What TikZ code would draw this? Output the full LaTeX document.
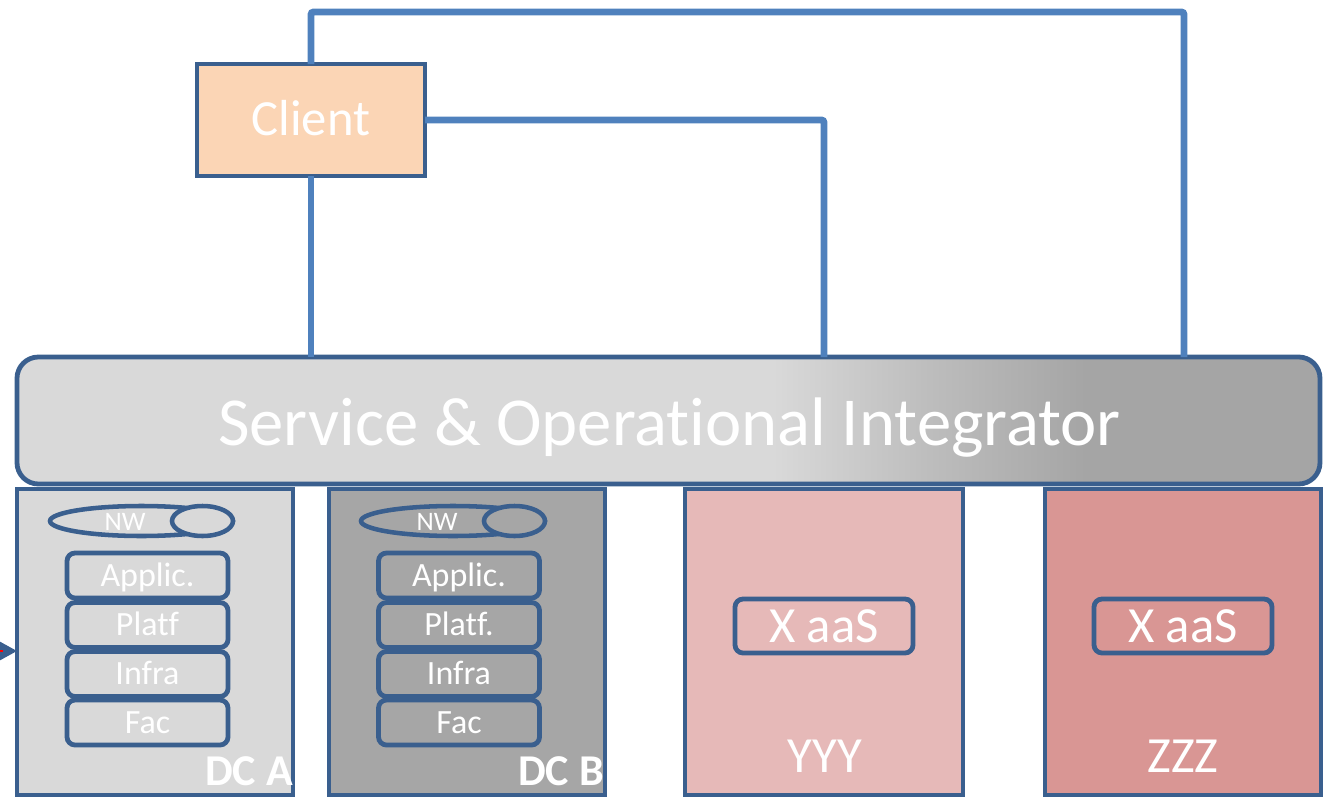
\documentclass[tikz,border=0pt]{standalone}
\usepackage{fontspec}
\setmainfont{Carlito}[Ligatures={NoCommon}]
\usetikzlibrary{shapes.geometric,arrows.meta,calc}

\definecolor{bordercol}{HTML}{3A5F8E}
\definecolor{conncol}{HTML}{4F81BD}
\definecolor{clientfill}{HTML}{FBD5B5}
\definecolor{soilight}{HTML}{D9D9D9}
\definecolor{soimid}{HTML}{BDBDBD}
\definecolor{soidark}{HTML}{A5A5A5}
\definecolor{dcafill}{HTML}{D9D9D9}
\definecolor{dcbfill}{HTML}{A6A6A6}
\definecolor{yyyfill}{HTML}{E6B9B8}
\definecolor{zzzfill}{HTML}{D99694}

% grey band that darkens towards the right end of the integrator bar
\pgfdeclarehorizontalshading{soishade}{100bp}{%
  color(0bp)=(soilight); color(54bp)=(soilight); color(60bp)=(soimid);
  color(66bp)=(soidark); color(100bp)=(soidark)}

\newcommand{\fsz}[1]{\fontsize{#1}{#1}\selectfont}

\tikzset{
  box/.style={draw=bordercol, line width=3.6pt, inner sep=0pt, outer sep=0pt,
    text=white},
  column/.style={box, minimum height={306*0.75pt}},
  layer/.style={box, rounded corners=6pt, minimum width={161*0.75pt},
    minimum height={45*0.75pt}, font=\fsz{25.5pt}, text height=16.4pt, text depth=0pt},
  service/.style={box, rounded corners=6pt, minimum width={178*0.75pt},
    minimum height={54*0.75pt}},
  nwring/.style={ellipse, draw=bordercol, line width=3.4pt, inner sep=0pt,
    outer sep=0pt, minimum height={30*0.75pt}},
  lbl/.style={text=white, inner sep=0pt, anchor=base},
  conn/.style={draw=conncol, line width=5.2pt, rounded corners=2pt},
}

\begin{document}
\begin{tikzpicture}[x=0.75pt, y=-0.75pt]
\useasboundingbox (0,0) rectangle (1325,803);

% ---- provider columns ----
\node[column, fill=dcafill, minimum width={276*0.75pt}] (dca) at (155,642) {};
\node[column, fill=dcbfill, minimum width={276*0.75pt}] (dcb) at (467,642) {};
\node[column, fill=yyyfill, minimum width={278*0.75pt}] (yyy) at (824,642) {};
\node[column, fill=zzzfill, minimum width={276*0.75pt}] (zzz) at (1183,642) {};

% ---- integrator bar ----
\node[box, rounded corners=16pt, shading=soishade, minimum width={1303*0.75pt},
      minimum height={127*0.75pt}] (soi) at (668.5,420.5) {};
% the kern keeps "t" and "i" as separate glyphs
\node[lbl, font=\fsz{51.5pt}] (soitext) at (669.5,445) {Service \& Operat\kern0pt ional Integrator};

% ---- client ----
\node[box, fill=clientfill, minimum width={228*0.75pt}, minimum height={112*0.75pt}]
  (client) at (311,120) {};
\node[lbl, font=\fsz{38pt}] (clienttext) at (311,135) {Client};

% ---- DC A contents ----
\node[nwring, fill=dcafill, minimum width={183*0.75pt}] (dcanw) at (141.5,521) {};
\node[nwring, fill=dcafill, minimum width={61*0.75pt}] (dcanwend) at (202.5,521) {};
\node[lbl, font=\fsz{20pt}] (dcanwtext) at (125,530) {NW};
\node[layer, fill=dcafill] (dcaapp)   at (147.5,575.5) {Applic.};
\node[layer, fill=dcafill] (dcaplat)  at (147.5,625)   {Platf};
\node[layer, fill=dcafill] (dcainfra) at (147.5,674)   {Infra};
\node[layer, fill=dcafill] (dcafac)   at (147.5,722.5) {Fac};
\node[lbl, anchor=base east, font=\bfseries\fsz{33pt}] (dcalabel) at (293,785) {DC A};

% ---- DC B contents ----
\node[nwring, fill=dcbfill, minimum width={184*0.75pt}] (dcbnw) at (453,521) {};
\node[nwring, fill=dcbfill, minimum width={61*0.75pt}] (dcbnwend) at (514.5,521) {};
\node[lbl, font=\fsz{20pt}] (dcbnwtext) at (437,530) {NW};
\node[layer, fill=dcbfill] (dcbapp)   at (459,575.5) {Applic.};
\node[layer, fill=dcbfill] (dcbplat)  at (459,625)   {Platf.};
\node[layer, fill=dcbfill] (dcbinfra) at (459,674)   {Infra};
\node[layer, fill=dcbfill] (dcbfac)   at (459,722.5) {Fac};
\node[lbl, anchor=base east, font=\bfseries\fsz{33pt}] (dcblabel) at (604,785) {DC B};

% ---- external service providers ----
\node[service, fill=yyyfill] (yyysvc) at (824,626) {};
\node[lbl, font=\fsz{38pt}] (yyysvctext) at (824,642) {X aaS};
\node[lbl, font=\fsz{38pt}] (yyylabel) at (825,772) {YYY};
\node[service, fill=zzzfill] (zzzsvc) at (1183,626) {};
\node[lbl, font=\fsz{38pt}] (zzzsvctext) at (1183,642) {X aaS};
\node[lbl, font=\fsz{38pt}] (zzzlabel) at (1183,772) {ZZZ};

% ---- client links into the integrator ----
\coordinate (toprun) at (1184,12);
\draw[conn] (client.south) -- (client.south |- soi.north);
\draw[conn] (client.east) -| (yyy.north |- soi.north);
\draw[conn] (client.north) |- (toprun) -- (toprun |- soi.north);

% ---- incoming link at the left edge ----
\coordinate (offleft) at (-40,651);
\coordinate (redend) at (3,651);
\draw[draw=bordercol, line width=1.5pt,
      -{Triangle[length=14pt, width=15pt, fill=bordercol]}]
  (offleft) -- (dca.west |- offleft);
\draw[red, line width=1.8pt] (offleft) -- (redend);
\end{tikzpicture}
\end{document}
